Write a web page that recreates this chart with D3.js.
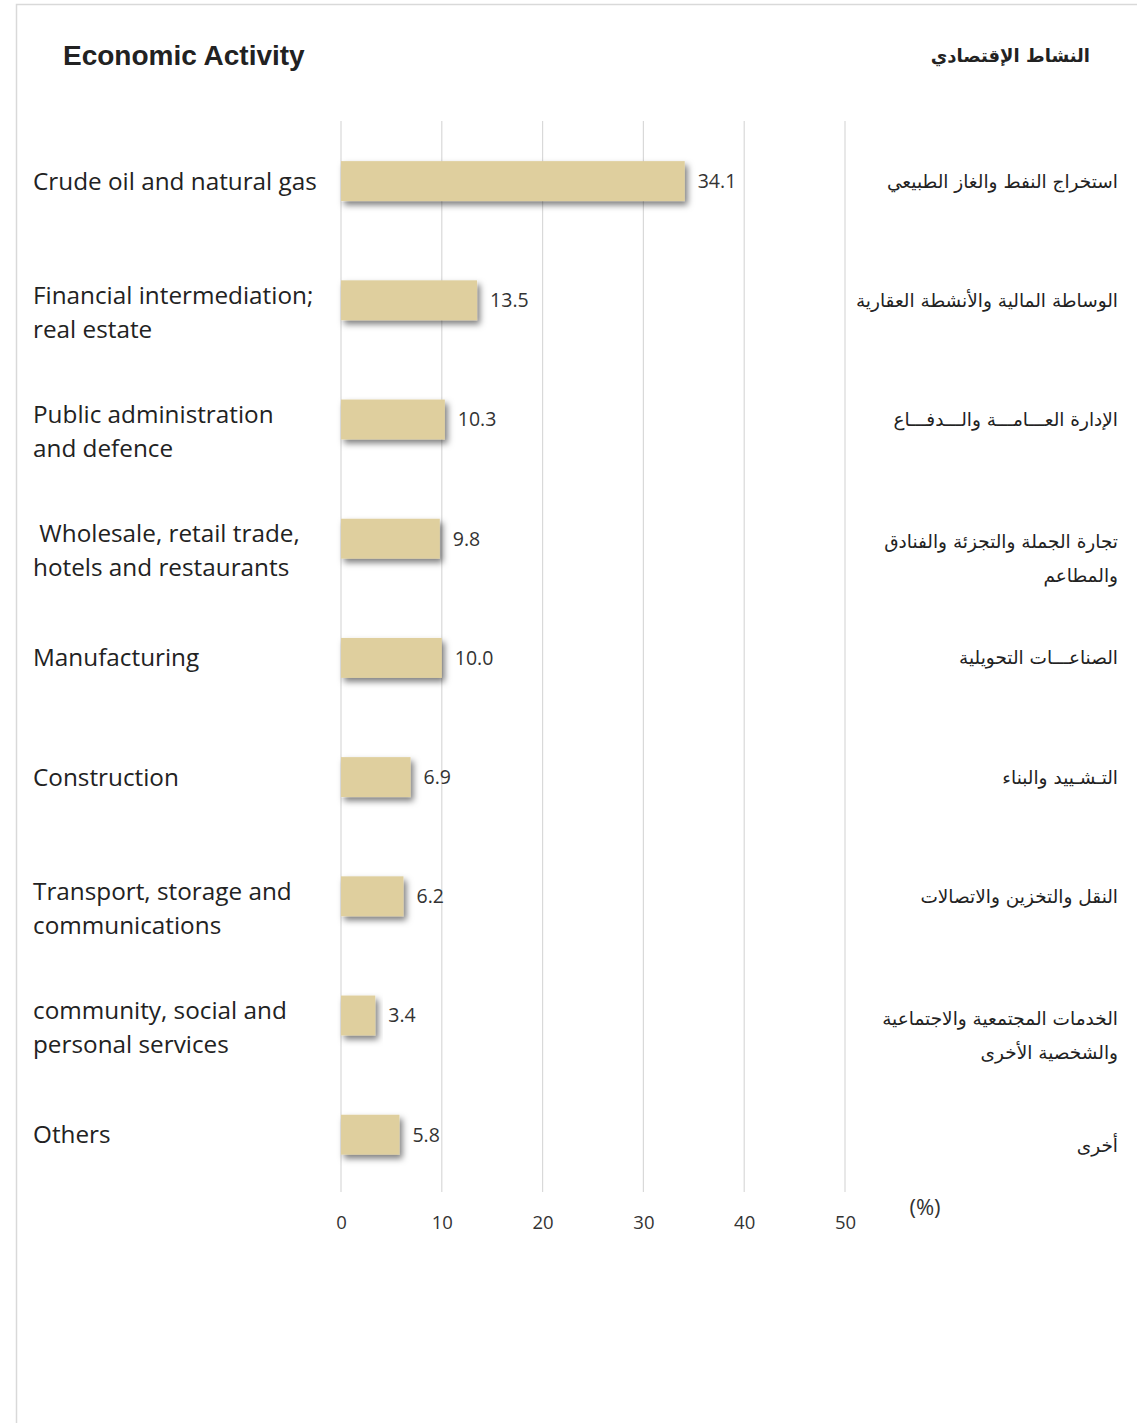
<html>

<head>
    <meta charset="utf-8">
    <script src="https://d3js.org/d3.v7.min.js"></script>
    <style>
        body { margin: 0; background: #fff; }
    </style>
</head>

<body></body>
<script>

    // data
    var categories = [
        ["Crude oil and natural gas"],
        ["Financial intermediation;", "real estate"],
        ["Public administration", "and defence"],
        [" Wholesale, retail trade,", "hotels and restaurants"],
        ["Manufacturing"],
        ["Construction"],
        ["Transport, storage and", "communications"],
        ["community, social and", "personal services"],
        ["Others"]
    ];
    var arabicLabels = [
        ["استخراج النفط والغاز الطبيعي"],
        ["الوساطة المالية والأنشطة العقارية"],
        ["الإدارة العـــامـــة والـــدفـــاع"],
        ["تجارة الجملة والتجزئة والفنادق", "والمطاعم"],
        ["الصناعـــات التحويلية"],
        ["التـشـييد والبناء"],
        ["النقل والتخزين والاتصالات"],
        ["الخدمات المجتمعية والاجتماعية", "والشخصية الأخرى"],
        ["أخرى"]
    ];
    var values = [34.1, 13.5, 10.3, 9.8, 10.0, 6.9, 6.2, 3.4, 5.8];
    var xTicks = [0, 10, 20, 30, 40, 50];

    var width = 1137, height = 1423;

    var svg = d3.select("body")
        .append("svg")
        .attr("width", width)
        .attr("height", height);

    // shadow for bars
    var defs = svg.append("defs");
    defs.append("filter")
        .attr("id", "shadow")
        .attr("x", "-10%").attr("y", "-30%")
        .attr("width", "130%").attr("height", "180%")
        .append("feDropShadow")
        .attr("dx", 3).attr("dy", 4)
        .attr("stdDeviation", 3)
        .attr("flood-color", "#000")
        .attr("flood-opacity", 0.5);

    // frame
    svg.append("path")
        .attr("d", "M16.5," + height + " V4.5 H" + width)
        .attr("fill", "none")
        .attr("stroke", "#d9d9d9")
        .attr("stroke-width", 1.5);

    // titles
    svg.append("text")
        .attr("x", 63).attr("y", 65)
        .style("font-family", "Liberation Sans, Arial, sans-serif")
        .style("font-weight", "bold")
        .style("font-size", "28px")
        .attr("fill", "#222")
        .text("Economic Activity");

    svg.append("text")
        .attr("x", 1090).attr("y", 62)
        .attr("text-anchor", "end")
        .style("font-family", "DejaVu Sans, sans-serif")
        .style("font-weight", "bold")
        .style("font-size", "18px")
        .attr("fill", "#222")
        .text("النشاط الإقتصادي");

    // scales
    var x = d3.scaleLinear()
        .domain([0, 50])
        .range([341, 845]);

    var y = d3.scaleBand()
        .domain(d3.range(values.length))
        .range([121.5, 121.5 + 9 * 119.2])
        .paddingInner(0.665)
        .paddingOuter(0.3325);

    // gridlines
    svg.append("g")
        .selectAll("line")
        .data(xTicks)
        .enter()
        .append("line")
        .attr("x1", d => x(d)).attr("x2", d => x(d))
        .attr("y1", 121).attr("y2", 1192)
        .attr("stroke", "#d9d9d9")
        .attr("stroke-width", 1.2);

    // x axis labels
    var axis = svg.append("g")
        .attr("transform", "translate(0,1216)")
        .call(d3.axisBottom(x).tickValues(xTicks).tickSize(0).tickPadding(0));
    axis.select(".domain").remove();
    axis.selectAll("text")
        .style("font-family", "Open Sans, sans-serif")
        .style("font-size", "18.5px")
        .attr("fill", "#333");

    svg.append("text")
        .attr("x", 925).attr("y", 1215)
        .attr("text-anchor", "middle")
        .style("font-family", "Open Sans, sans-serif")
        .style("font-size", "22px")
        .attr("fill", "#333")
        .text("(%)");

    // bars
    svg.append("g")
        .selectAll("rect")
        .data(values)
        .enter()
        .append("rect")
        .attr("x", x(0))
        .attr("y", (d, i) => y(i))
        .attr("width", d => x(d) - x(0))
        .attr("height", y.bandwidth())
        .attr("fill", "#dfcf9e")
        .attr("filter", "url(#shadow)");

    // value labels
    svg.append("g")
        .selectAll("text")
        .data(values)
        .enter()
        .append("text")
        .attr("x", d => x(d) + 13)
        .attr("y", (d, i) => y(i) + y.bandwidth() / 2)
        .attr("dy", "0.35em")
        .style("font-family", "Open Sans, sans-serif")
        .style("font-size", "19.5px")
        .attr("fill", "#333")
        .text(d => d.toFixed(1));

    // left labels (english)
    var left = svg.append("g")
        .selectAll("text")
        .data(categories)
        .enter()
        .append("text")
        .attr("x", 33)
        .attr("y", (d, i) => y(i) + y.bandwidth() / 2 - (d.length > 1 ? 5 : 0))
        .style("font-family", "Open Sans, sans-serif")
        .style("font-size", "24.3px")
        .style("white-space", "pre")
        .attr("fill", "#222");
    left.selectAll("tspan")
        .data(d => d)
        .enter()
        .append("tspan")
        .attr("x", 33)
        .attr("dy", (d, i) => i == 0 ? "0.35em" : "34px")
        .text(d => d);

    // right labels (arabic)
    var right = svg.append("g")
        .selectAll("text")
        .data(arabicLabels)
        .enter()
        .append("text")
        .attr("x", 1118)
        .attr("y", (d, i) => y(i) + y.bandwidth() / 2 + (d.length > 1 ? 3 : 0) + (i == 8 ? 11 : 0))
        .attr("text-anchor", "end")
        .style("font-family", "DejaVu Sans, sans-serif")
        .style("font-size", "18.5px")
        .attr("fill", "#222");
    right.selectAll("tspan")
        .data(d => d)
        .enter()
        .append("tspan")
        .attr("x", 1118)
        .attr("dy", (d, i) => i == 0 ? "0.35em" : "34px")
        .text(d => d);

</script>

</html>
